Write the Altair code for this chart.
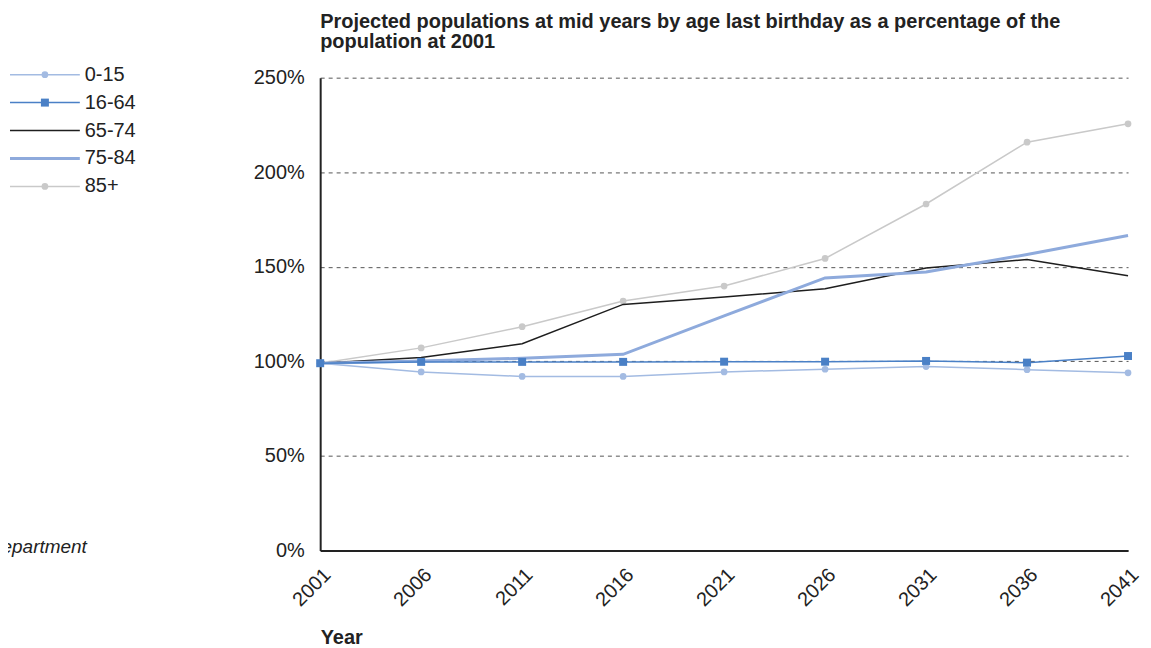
import altair as alt
import pandas as pd

years = [2001, 2006, 2011, 2016, 2021, 2026, 2031, 2036, 2041]
series = ["0-15", "16-64", "65-74", "75-84", "85+"]
v_0_15 = [99, 94.4, 92, 92, 94.4, 95.8, 97.2, 95.6, 93.9]
v_16_64 = [99, 99.7, 99.7, 99.7, 99.8, 99.8, 100.2, 99.3, 102.8]
v_65_74 = [99, 102, 109.3, 130.1, 134, 138.4, 149.4, 153.8, 145.2]
v_75_84 = [99, 100.2, 101.6, 103.7, 124, 144.1, 147.2, 156.5, 166.5]
v_85 = [99, 107.1, 118.3, 131.9, 139.8, 154.4, 183.2, 215.9, 225.6]
values = [v_0_15, v_16_64, v_65_74, v_75_84, v_85]

colors = ["#a3bbe2", "#4a80c6", "#1e1e1e", "#8eaadc", "#c9c9c9"]
widths = [1.5, 1.5, 1.5, 3, 1.5]
shapes = ["circle", "square", None, None, "circle"]
psize = [45, 64, 0, 0, 45]

FONT = "Liberation Sans"
FS = 20

rows = []
for s, vals in zip(series, values):
    for y, v in zip(years, vals):
        rows.append({"Year": y, "Age": s, "Pct": v})
df = pd.DataFrame(rows)

xenc = alt.X("Year:Q", scale=alt.Scale(domain=[2001, 2041], nice=False, zero=False),
             axis=alt.Axis(values=years, format="d", labelAngle=-45, labelFontSize=FS,
                           labelFont=FONT, labelColor="#222", labelPadding=14,
                           ticks=False, grid=False, domainColor="#222", domainWidth=2,
                           title="Year", titleFont=FONT, titleFontSize=FS,
                           titleFontWeight="bold", titleAnchor="start", titleColor="#222",
                           titlePadding=18))
yenc = alt.Y("Pct:Q", scale=alt.Scale(domain=[0, 250], nice=False),
             axis=alt.Axis(values=[0, 50, 100, 150, 200, 250],
                           labelExpr="datum.value + '%'", labelFontSize=FS,
                           labelFont=FONT, labelColor="#222", labelPadding=16,
                           ticks=False, grid=True, gridDash=[4, 4], gridColor="#555",
                           gridWidth=1, domainColor="#222", domainWidth=2, title=None))

order = [4, 2, 3, 0, 1]
layers = []
for i in order:
    s = series[i]
    base = alt.Chart(df).transform_filter(alt.datum.Age == s)
    layers.append(base.mark_line(color=colors[i], strokeWidth=widths[i]).encode(x=xenc, y=yenc))
    if shapes[i]:
        layers.append(base.mark_point(shape=shapes[i], filled=True, opacity=1,
                                      color=colors[i], size=psize[i]).encode(x=xenc, y=yenc))

main = alt.layer(*layers).properties(
    width=810, height=474,
    title=alt.TitleParams(
        ["Projected populations at mid years by age last birthday as a percentage of the",
         "population at 2001"],
        anchor="start", frame="group", font=FONT, fontSize=FS, fontWeight="bold",
        color="#222", offset=16, lineHeight=20))

# legend panel
leg = pd.DataFrame({"Age": series, "idx": list(range(5)),
                    "x0": [0] * 5, "x1": [1] * 5, "xm": [0.5] * 5, "xl": [1.07] * 5})
LH = 500
lx = alt.Scale(domain=[-0.0286, 1.971], nice=False, zero=False)
ly = alt.Scale(domain=[0.107, 0.107 + LH / 28], nice=False, zero=False, reverse=True)
lbase = alt.Chart(leg)
llayers = []
for i, s in enumerate(series):
    b = lbase.transform_filter(alt.datum.Age == s)
    llayers.append(b.mark_rule(color=colors[i], strokeWidth=widths[i]).encode(
        x=alt.X("x0:Q", scale=lx, axis=None), x2="x1:Q",
        y=alt.Y("idx:Q", scale=ly, axis=None)))
    if shapes[i]:
        llayers.append(b.mark_point(shape=shapes[i], filled=True, opacity=1,
                                    color=colors[i], size=psize[i]).encode(
            x=alt.X("xm:Q", scale=lx, axis=None), y=alt.Y("idx:Q", scale=ly, axis=None)))
llayers.append(lbase.mark_text(align="left", baseline="middle", font=FONT, fontSize=FS,
                               color="#222").encode(
    x=alt.X("xl:Q", scale=lx, axis=None), y=alt.Y("idx:Q", scale=ly, axis=None),
    text="Age:N"))
note = pd.DataFrame({"t": ["Department"], "x": [1.1], "y": [16.9]})
llayers.append(alt.Chart(note).mark_text(align="right", baseline="middle", font=FONT,
                                         fontSize=19, fontStyle="italic", color="#222",
                                         clip=True).encode(
    x=alt.X("x:Q", scale=lx, axis=None), y=alt.Y("y:Q", scale=ly, axis=None), text="t:N"))
legend = alt.layer(*llayers).properties(width=140, height=LH)

chart = alt.hconcat(legend, main, spacing=105).configure_view(stroke=None).properties(
    padding={"left": 0, "top": 3, "right": 0, "bottom": 0})

chart.save("out.html", embed_options={"renderer": "svg", "actions": False})
